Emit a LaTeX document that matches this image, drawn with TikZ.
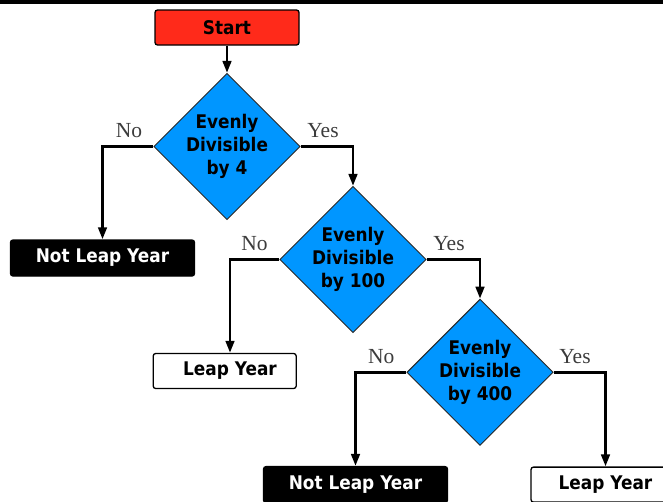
\documentclass[tikz,border=0pt]{standalone}
\usepackage{fontspec}
\newfontfamily\boxfont{DejaVu Sans}[FakeStretch=0.9]
\newfontfamily\lblfont{Liberation Serif}
\usetikzlibrary{shapes.geometric,arrows.meta}
\definecolor{startred}{RGB}{255,42,26}
\definecolor{decblue}{RGB}{0,150,255}
\definecolor{lblgray}{RGB}{60,60,60}
\tikzset{
  boxtext/.style={font=\boxfont\bfseries\fontsize{18.8}{23}\selectfont},
  decision/.style={diamond, aspect=1, draw=black!85, line width=0.9pt, fill=decblue,
    minimum width=146pt, minimum height=146pt, inner sep=0pt, align=center, boxtext},
  startbox/.style={rectangle, rounded corners=2.5pt, draw=black, line width=1.3pt, fill=startred,
    minimum width=144pt, minimum height=35pt, inner sep=0pt, boxtext},
  notleap/.style={rectangle, rounded corners=2.5pt, draw=black, line width=1.3pt, fill=black,
    text=white, minimum width=184pt, minimum height=36pt, inner sep=0pt, boxtext},
  leapbox/.style={rectangle, rounded corners=2.5pt, draw=black, line width=1.3pt, fill=white,
    minimum width=143pt, minimum height=35pt, inner sep=0pt},
  leaptext/.style={inner sep=0pt, boxtext},
  yn/.style={font=\lblfont\fontsize{21.5}{24}\selectfont, text=lblgray, anchor=base, inner sep=0pt},
  arr/.style={line width=2.8pt, -{Triangle[length=12pt,width=8.5pt]}}
}
\begin{document}
\begin{tikzpicture}[x=1pt,y=-1pt]
\useasboundingbox (0,0) rectangle (663,501);
\clip (0,0) rectangle (663,501);
\fill[black] (0,0) rectangle (663,3.5);

\node[startbox] (start) at (227,27.5) {Start};
\node[decision] (d1) at (227,146.5) {Evenly\\Divisible\\by 4};
\node[decision] (d2) at (353,259.5) {Evenly\\Divisible\\by 100};
\node[decision] (d3) at (480,372.3) {Evenly\\Divisible\\by 400};

\node[notleap] (nly1) at (102.5,258) {Not Leap Year};
\node[leapbox] (ly1) at (224.7,371) {};
\node[leaptext] (ly1t) at (230,371) {Leap Year};
\node[notleap] (nly2) at (355.5,484.6) {Not Leap Year};
\node[leapbox] (ly2) at (602.5,484.6) {};
\node[leaptext] (ly2t) at (605.5,484.6) {Leap Year};

\node[yn] (no1) at (129,137.7) {No};
\node[yn] (yes1) at (323,137.7) {Yes};
\node[yn] (no2) at (254.5,250.7) {No};
\node[yn] (yes2) at (449,250.7) {Yes};
\node[yn] (no3) at (381.3,363.3) {No};
\node[yn] (yes3) at (575,363.3) {Yes};

\draw[arr] (start.south) -- (d1.north);
\draw[arr] (d1.west) -| (nly1.north);
\draw[arr] (d1.east) -| (d2.north);
\draw[arr] (d2.west) -| (ly1t |- ly1.north);
\draw[arr] (d2.east) -| (d3.north);
\draw[arr] (d3.west) -| (nly2.north);
\draw[arr] (d3.east) -| (ly2t |- ly2.north);
\end{tikzpicture}
\end{document}
